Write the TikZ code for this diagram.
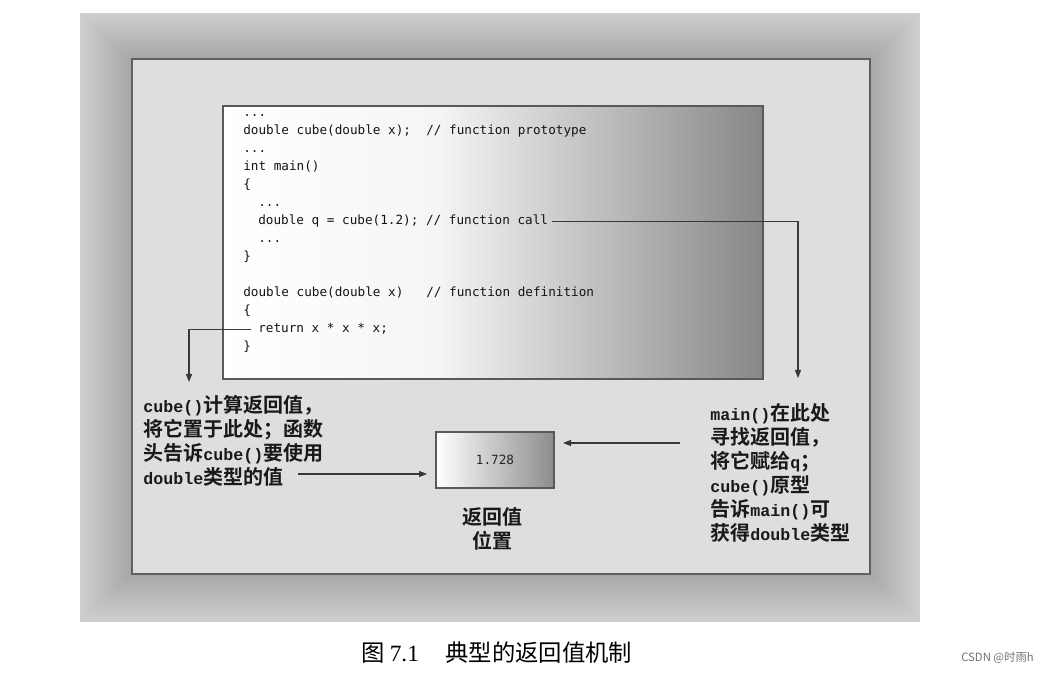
\documentclass[tikz,border=0pt]{standalone}
\usepackage{fontspec}
\usetikzlibrary{arrows.meta}
\newfontfamily\cjkfont{Noto Sans CJK SC}[BoldFont=* Bold]
\newfontfamily\codefont{DejaVu Sans Mono}
\newfontfamily\lblmono{Liberation Mono}
\newfontfamily\capserif{Liberation Serif}
\newcommand{\cd}[1]{{\lblmono\fontsize{12.5}{18}\selectfont #1}}
\pgfdeclarehorizontalshading{codefade}{100bp}{color(0bp)=(white); color(25bp)=(white);
 color(45bp)=(white!96!black); color(75bp)=(black!47); color(100bp)=(black!47)}
\tikzset{panel/.style={fill=black!13,draw=black!62,line width=1.5pt},
 codepanel/.style={shading=codefade,draw=black!65,line width=1.8pt},
 codeline/.style={anchor=base west,inner sep=0pt,text=black!92,
  font=\codefont\fontsize{9.5}{11}\selectfont},
 conn/.style={draw=black!78,line width=0.9pt,-{Triangle[length=6pt,width=4.5pt]}},
 note/.style={inner sep=0pt,align=left,text=black!90,
  font=\cjkfont\bfseries\fontsize{15}{18}\selectfont}}

\begin{document}
\begin{tikzpicture}[x=0.75pt,y=-0.75pt]
\useasboundingbox[fill=white] (0,0) rectangle (1049,673);
\foreach \k in {0,...,25} {
\pgfmathsetmacro\shadeval{19+0.62*\k}
\fill[black!\shadeval] ({80+2*\k},{13+1.8*\k}) rectangle ({920-2*\k},{622-1.9*\k});
}
\draw[panel] (132,59) rectangle (870,574);
\path[codepanel] (223,106) rectangle (763,379);
\foreach \i/\x/\txt in {0/243/{...},1/243/{double cube(double x);~~// function prototype},
 2/243/{...},3/243/{int main()},4/243/{\{},5/258/{...},
 6/258/{double q = cube(1.2); // function call},7/258/{...},8/243/{\}},
 10/243/{double cube(double x)~~~// function definition},11/243/{\{},
 12/258/{return x * x * x;},13/243/{\}}}
 \node[codeline] (c\i) at (\x,{117+18*\i}) {\txt};
\node[draw=black!65,line width=1.5pt,left color=white,right color=black!45,
 minimum width=88.5pt,minimum height=42pt,text=black!85,
 font=\codefont\fontsize{9.5}{11}\selectfont] (retbox) at (495,460) {1.728};
\node[note,align=center] (retlbl) at (492,529) {返回值\\位置};
\node[note,anchor=north west] (cubelbl) at (143,395)
 {\cd{cube()}计算返回值，\\将它置于此处；函数\\头告诉\cd{cube()}要使用\\\cd{double}类型的值};
\node[note,anchor=north west] (mainlbl) at (710,403)
 {\cd{main()}在此处\\寻找返回值，\\将它赋给\cd{q}；\\\cd{cube()}原型\\告诉\cd{main()}可\\获得\cd{double}类型};
\coordinate (calltip) at (798,378);
\coordinate (rettip) at (189,382);
\coordinate (dblend) at (298,474);
\coordinate (lookfrom) at (680,443);
\draw[conn] ([xshift=3pt]c6.east) -| (calltip);
\draw[conn] ([xshift=-5pt]c12.west) -| (rettip);
\draw[conn,shorten >=6pt] (dblend) -- (retbox.west |- dblend);
\draw[conn,shorten >=6pt] (lookfrom) -- (retbox.east |- lookfrom);
\node[anchor=west,inner sep=0pt,font=\cjkfont\fontsize{17.5}{20}\selectfont] (caption) at (361,653)
 {图 {\capserif 7.1}\hspace{20pt}典型的返回值机制};
\node[anchor=east,inner sep=0pt,text=black!55,font=\cjkfont\fontsize{8.5}{10}\selectfont]
 (mark) at (1034,658) {CSDN @时雨h};
\end{tikzpicture}
\end{document}
